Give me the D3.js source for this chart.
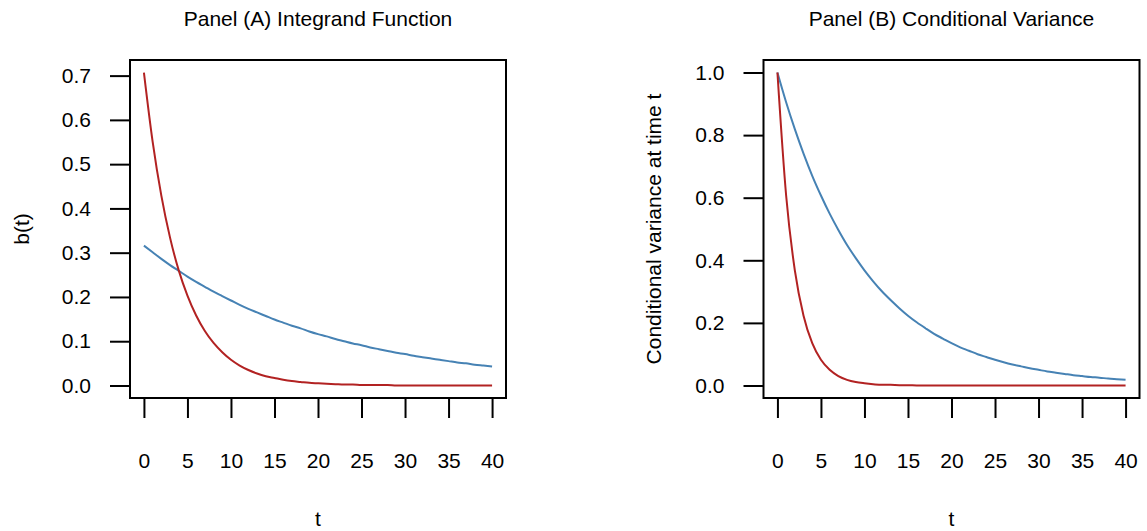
<!DOCTYPE html>
<html>
<head>
<meta charset="utf-8">
<script src="https://cdn.jsdelivr.net/npm/d3@7"></script>
<style>
  html, body { margin: 0; padding: 0; background: #fff; }
  svg text { font-family: "Liberation Sans", Arial, Helvetica, sans-serif; fill: #000; }
</style>
</head>
<body>
<svg id="chart" width="1147" height="531"></svg>
<script>
// Time grid (t) shared by every series
const tValues = d3.range(0, 41);

// Panel A: integrand b(t)
const bSlow = [0.316, 0.301, 0.286, 0.272, 0.259, 0.246, 0.234, 0.223, 0.212, 0.202,
  0.192, 0.182, 0.173, 0.165, 0.157, 0.149, 0.142, 0.135, 0.129, 0.122,
  0.116, 0.111, 0.105, 0.100, 0.095, 0.091, 0.086, 0.082, 0.078, 0.074,
  0.071, 0.067, 0.064, 0.061, 0.058, 0.055, 0.052, 0.050, 0.047, 0.045, 0.043];
const bFast = [0.707, 0.551, 0.429, 0.334, 0.260, 0.203, 0.158, 0.123, 0.096, 0.075,
  0.058, 0.045, 0.035, 0.027, 0.021, 0.017, 0.013, 0.010, 0.008, 0.006,
  0.005, 0.004, 0.003, 0.002, 0.002, 0.001, 0.001, 0.001, 0.001, 0.000,
  0.000, 0.000, 0.000, 0.000, 0.000, 0.000, 0.000, 0.000, 0.000, 0.000, 0.000];

// Panel B: conditional variance at time t
const varSlow = [1.000, 0.905, 0.819, 0.741, 0.670, 0.607, 0.549, 0.497, 0.449, 0.407,
  0.368, 0.333, 0.301, 0.273, 0.247, 0.223, 0.202, 0.183, 0.165, 0.150,
  0.135, 0.122, 0.111, 0.100, 0.091, 0.082, 0.074, 0.067, 0.061, 0.055,
  0.050, 0.045, 0.041, 0.037, 0.033, 0.030, 0.027, 0.025, 0.022, 0.020, 0.018];
const varFast = [1.000, 0.607, 0.368, 0.223, 0.135, 0.082, 0.050, 0.030, 0.018, 0.011,
  0.007, 0.004, 0.002, 0.002, 0.001, 0.001, 0.000, 0.000, 0.000, 0.000,
  0.000, 0.000, 0.000, 0.000, 0.000, 0.000, 0.000, 0.000, 0.000, 0.000,
  0.000, 0.000, 0.000, 0.000, 0.000, 0.000, 0.000, 0.000, 0.000, 0.000, 0.000];

// Tick labels
const xTicks = [0, 5, 10, 15, 20, 25, 30, 35, 40];
const yTicksA = [0.0, 0.1, 0.2, 0.3, 0.4, 0.5, 0.6, 0.7];
const yTicksB = [0.0, 0.2, 0.4, 0.6, 0.8, 1.0];

const colSlow = "#4682B4";
const colFast = "#B22222";

const svg = d3.select("#chart");
const FONT = 21;

// R-style 4% axis padding
function padded(lo, hi) {
  const d = (hi - lo) * 0.04;
  return [lo - d, hi + d];
}

function drawPanel(opts) {
  const { left, right, top, bottom } = opts;
  const g = svg.append("g");

  const x = d3.scaleLinear().domain(padded(0, 40)).range([left, right]);
  const allY = opts.series.flatMap(s => s.values);
  const y = d3.scaleLinear().domain(padded(d3.min(allY), d3.max(allY))).range([bottom, top]);

  // series
  const line = d3.line()
    .x((d, i) => x(tValues[i]))
    .y(d => y(d))
    .curve(d3.curveMonotoneX);

  opts.series.forEach(s => {
    g.append("path")
      .datum(s.values)
      .attr("fill", "none")
      .attr("stroke", s.color)
      .attr("stroke-width", 2)
      .attr("d", line);
  });

  // y axis
  const yAxis = d3.axisLeft(y)
    .tickValues(opts.yTicks)
    .tickFormat(d3.format(".1f"))
    .tickSize(20)
    .tickPadding(19);
  const ya = g.append("g").attr("transform", `translate(${left},0)`).call(yAxis);
  ya.select(".domain").remove();
  ya.selectAll("line").attr("stroke", "#000").attr("stroke-width", 2);
  ya.selectAll("text").attr("font-size", FONT).attr("font-family", null);

  // x axis
  const xAxis = d3.axisBottom(x)
    .tickValues(xTicks)
    .tickFormat(d3.format("d"))
    .tickSize(20)
    .tickPadding(35);
  const xa = g.append("g").attr("transform", `translate(0,${bottom})`).call(xAxis);
  xa.select(".domain").remove();
  xa.selectAll("line").attr("stroke", "#000").attr("stroke-width", 2);
  xa.selectAll("text").attr("font-size", FONT).attr("font-family", null);

  // box
  g.append("rect")
    .attr("x", left).attr("y", top)
    .attr("width", right - left).attr("height", bottom - top)
    .attr("fill", "none").attr("stroke", "#000").attr("stroke-width", 2);

  const cx = (left + right) / 2;
  const cy = (top + bottom) / 2;

  // title
  g.append("text")
    .attr("x", cx).attr("y", 26)
    .attr("text-anchor", "middle")
    .attr("font-size", FONT)
    .text(opts.title);

  // x label
  g.append("text")
    .attr("x", cx).attr("y", 526)
    .attr("text-anchor", "middle")
    .attr("font-size", FONT)
    .text("t");

  // y label
  g.append("text")
    .attr("transform", `translate(${opts.yLabelX},${cy}) rotate(-90)`)
    .attr("text-anchor", "middle")
    .attr("font-size", FONT)
    .text(opts.yLabel);
}

drawPanel({
  left: 130, right: 506, top: 60, bottom: 398,
  title: "Panel (A) Integrand Function",
  yLabel: "b(t)", yLabelX: 29,
  yTicks: yTicksA,
  series: [
    { values: bSlow, color: colSlow },
    { values: bFast, color: colFast }
  ]
});

drawPanel({
  left: 763.5, right: 1139.5, top: 60, bottom: 398,
  title: "Panel (B) Conditional Variance",
  yLabel: "Conditional variance at time t", yLabelX: 661,
  yTicks: yTicksB,
  series: [
    { values: varSlow, color: colSlow },
    { values: varFast, color: colFast }
  ]
});
</script>
</body>
</html>
